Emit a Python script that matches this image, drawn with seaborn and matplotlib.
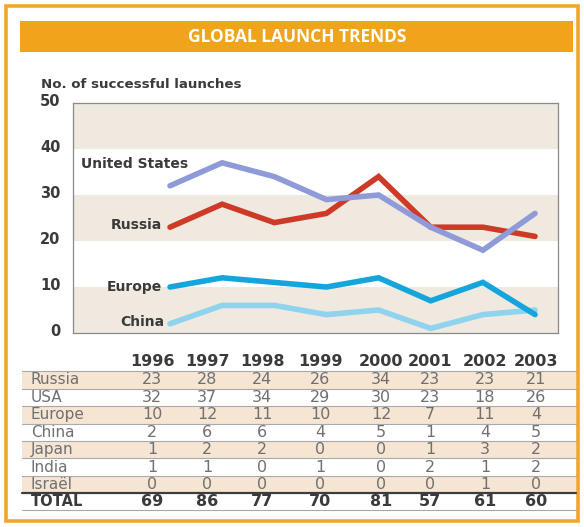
import matplotlib
matplotlib.use("Agg")
import matplotlib.pyplot as plt
from matplotlib.patches import Rectangle
from matplotlib.transforms import ScaledTranslation
import numpy as np
import pandas as pd
import seaborn as sns

# ---- data ---------------------------------------------------------------
years = [1996, 1997, 1998, 1999, 2000, 2001, 2002, 2003]
russia = [23, 28, 24, 26, 34, 23, 23, 21]
usa = [32, 37, 34, 29, 30, 23, 18, 26]
europe = [10, 12, 11, 10, 12, 7, 11, 4]
china = [2, 6, 6, 4, 5, 1, 4, 5]
japan = [1, 2, 2, 0, 0, 1, 3, 2]
india = [1, 1, 0, 1, 0, 2, 1, 2]
israel = [0, 0, 0, 0, 0, 0, 1, 0]
totals = [69, 86, 77, 70, 81, 57, 61, 60]

table_rows = ["Russia", "USA", "Europe", "China", "Japan", "India", "Israël"]
table_values = [russia, usa, europe, china, japan, india, israel]

plotted = ["China", "Europe", "Russia", "USA"]
line_labels = {"USA": "United States", "Russia": "Russia",
               "Europe": "Europe", "China": "China"}

# ---- style --------------------------------------------------------------
sns.set_theme(style="white")
plt.rcParams["font.family"] = ["DejaVu Sans"]

ORANGE = "#f1a62a"
BAND = "#efe9df"
PEACH = "#f7e5d3"
DARK = "#3a3a3a"
GREY = "#707070"
palette = {"USA": "#8f9bd8", "Russia": "#cd3a27",
           "Europe": "#14a5dc", "China": "#8fd3ef"}

W, H = 584, 527
fig = plt.figure(figsize=(W / 100, H / 100), dpi=100)
fig.patch.set_facecolor("white")

# overlay in pixel units for the frame, title bar and table
ov = fig.add_axes([0, 0, 1, 1])
ov.set_xlim(0, W)
ov.set_ylim(H, 0)
ov.axis("off")

ov.add_patch(Rectangle((6, 6), 572, 515, fill=False, edgecolor=ORANGE, lw=2.6))
ov.add_patch(Rectangle((20, 21), 553, 31, facecolor="#f0a41c", edgecolor="none"))
ov.text(297, 36.5, "GLOBAL LAUNCH TRENDS", color="white", fontsize=12.5,
        fontweight="bold", ha="center", va="center", family="Open Sans")

ov.text(41, 84, "No. of successful launches", color=DARK, fontsize=9.6,
        fontweight="bold", ha="left", va="center")

# ---- table --------------------------------------------------------------
col_x = [152, 207, 262, 320, 381, 430, 485, 536]
header_y = 361
row0_y = 380
row_h = 17.4
left, right = 22, 576

for j, yr in enumerate(years):
    ov.text(col_x[j], header_y, str(yr), fontsize=11.5, fontweight="bold",
            color=DARK, ha="center", va="center")

for i, (name, vals) in enumerate(zip(table_rows, table_values)):
    yc = row0_y + i * row_h
    if i % 2 == 0:
        ov.add_patch(Rectangle((left, yc - row_h / 2), right - left, row_h,
                               facecolor=PEACH, edgecolor="none"))
    ov.plot([left, right], [yc - row_h / 2] * 2, color="#a9a9a9", lw=0.8)
    ov.text(31, yc, name, fontsize=11, color=GREY, ha="left", va="center")
    for j, v in enumerate(vals):
        ov.text(col_x[j], yc, str(v), fontsize=11.5, color=GREY,
                ha="center", va="center")

yt = row0_y + len(table_rows) * row_h
ov.plot([left, right], [yt - row_h / 2] * 2, color="#3c3c3c", lw=1.6)
ov.text(31, yt, "TOTAL", fontsize=10.5, fontweight="bold", color=DARK,
        ha="left", va="center")
for j, v in enumerate(totals):
    ov.text(col_x[j], yt, str(v), fontsize=11.5, fontweight="bold", color=DARK,
            ha="center", va="center")
ov.plot([left, right], [yt + row_h / 2] * 2, color="#a9a9a9", lw=0.8)

# ---- line chart ---------------------------------------------------------
ax = fig.add_axes([73 / W, 1 - 333 / H, 485 / W, 230 / H])
ax.set_facecolor("white")
for lo in (0, 20, 40):
    ax.axhspan(lo, lo + 10, color=BAND, lw=0, zorder=0)

series = {"Russia": russia, "USA": usa, "Europe": europe, "China": china}
df = pd.DataFrame({"year": years * len(series),
                   "country": np.repeat(list(series.keys()), len(years)),
                   "launches": np.concatenate(list(series.values()))})

sns.lineplot(data=df, x="year", y="launches", hue="country",
             hue_order=plotted, palette=palette, linewidth=4,
             legend=False, ax=ax, solid_capstyle="round",
             solid_joinstyle="miter")

ax.set_xlim(1994.14, 2003.44)
ax.set_ylim(0, 50)
ax.set_xticks([])
ax.set_yticks([0, 10, 20, 30, 40, 50])
ax.set_yticklabels([str(t) for t in [0, 10, 20, 30, 40, 50]],
                   fontweight="bold", fontsize=10.5, color=DARK)
ax.tick_params(axis="y", length=0, pad=9)
lift = ScaledTranslation(0, 3 / 100, fig.dpi_scale_trans)
for lab in ax.get_yticklabels():
    lab.set_transform(lab.get_transform() + lift)
ax.set_xlabel("")
ax.set_ylabel("")
for s in ax.spines.values():
    s.set_color("#8a8a8a")
    s.set_linewidth(0.9)

# series names beside the first point
label_pos = {"USA": (1996.35, 36.7), "Russia": (1995.85, 23.5),
             "Europe": (1995.85, 10.0), "China": (1995.9, 2.4)}
for key, (x, y) in label_pos.items():
    ax.text(x, y, line_labels[key], fontsize=10, fontweight="bold",
            color=DARK, ha="right", va="center")

fig.savefig("out.png", dpi=100)
